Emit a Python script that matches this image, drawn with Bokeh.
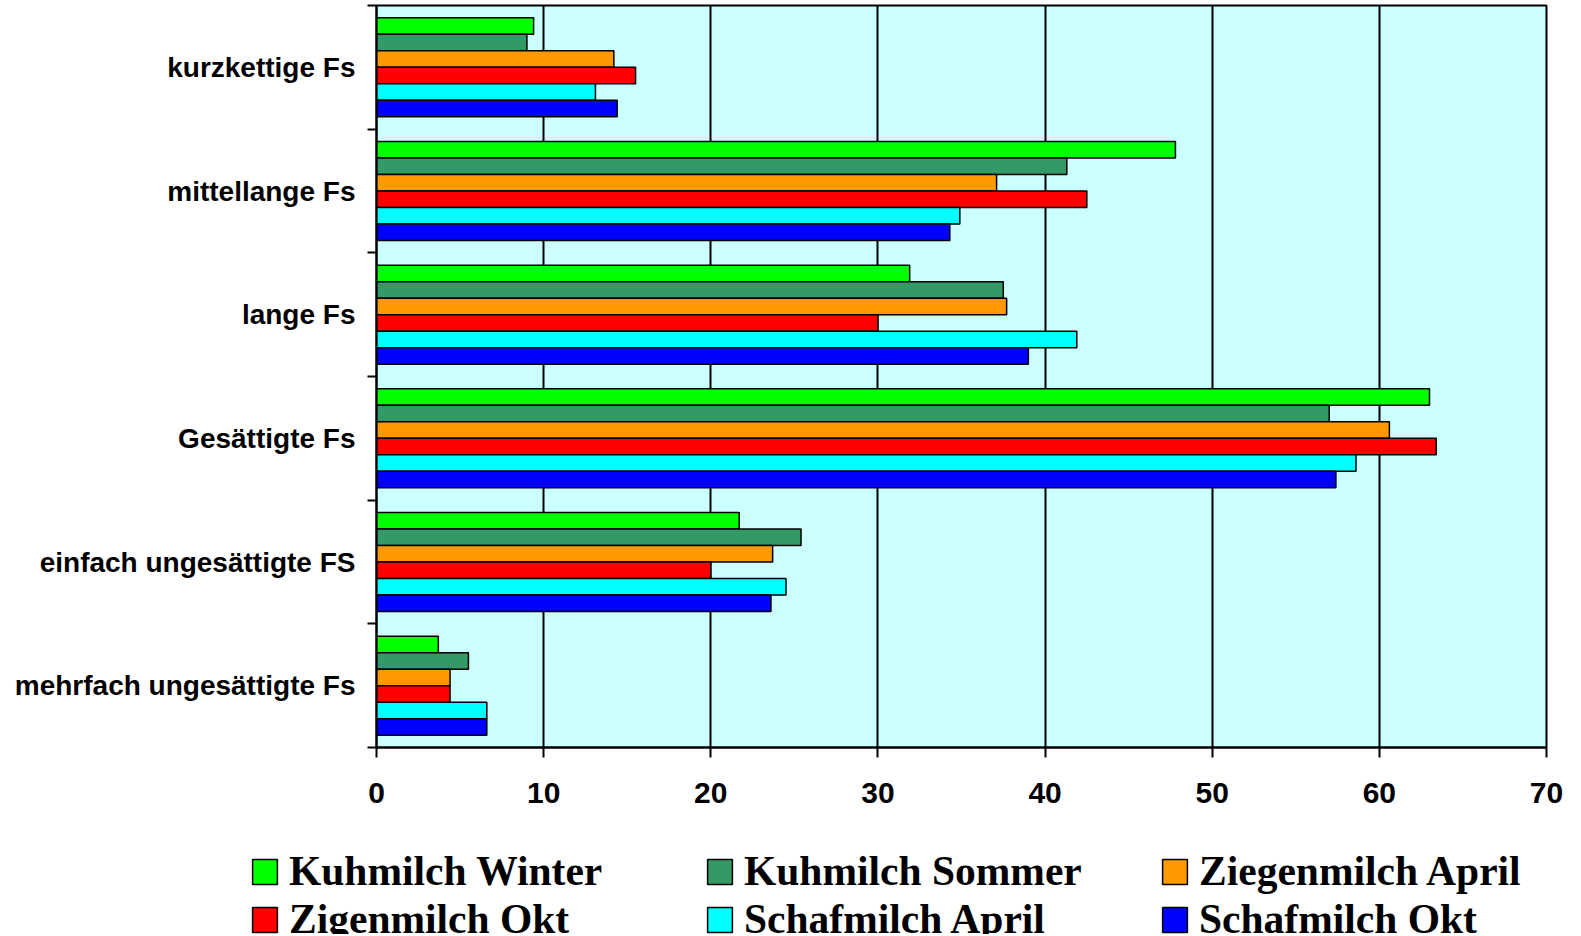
from bokeh.plotting import figure
from bokeh.layouts import column
from bokeh.models import Range1d, FixedTicker, ColumnDataSource, Legend, LegendItem
from bokeh.transform import dodge
from bokeh.embed import file_html
from bokeh.resources import INLINE

categories = ["kurzkettige Fs", "mittellange Fs", "lange Fs", "Gesättigte Fs",
              "einfach ungesättigte FS", "mehrfach ungesättigte Fs"]
series_names = ["Kuhmilch Winter", "Kuhmilch Sommer", "Ziegenmilch April",
                "Zigenmilch Okt", "Schafmilch April", "Schafmilch Okt"]
kuh_winter = [9.4, 47.8, 31.9, 63.0, 21.7, 3.7]
kuh_sommer = [9.0, 41.3, 37.5, 57.0, 25.4, 5.5]
ziege_april = [14.2, 37.1, 37.7, 60.6, 23.7, 4.4]
ziege_okt = [15.5, 42.5, 30.0, 63.4, 20.0, 4.4]
schaf_april = [13.1, 34.9, 41.9, 58.6, 24.5, 6.6]
schaf_okt = [14.4, 34.3, 39.0, 57.4, 23.6, 6.6]
series_values = [kuh_winter, kuh_sommer, ziege_april, ziege_okt, schaf_april, schaf_okt]
colors = ["#00FF00", "#339966", "#FF9900", "#FF0000", "#00FFFF", "#0000FF"]
x_ticks = [0, 10, 20, 30, 40, 50, 60, 70]

n = len(categories)
ypos = [n - 0.5 - i for i in range(n)]  # top category first
data = {"y": ypos}
for k, vals in enumerate(series_values):
    data[f"s{k}"] = vals
source = ColumnDataSource(data)

p = figure(width=1565, height=830, x_range=Range1d(0, 70), y_range=Range1d(0, n),
           output_backend="svg", toolbar_location=None,
           min_border_left=376, min_border_right=19, min_border_top=5,
           min_border_bottom=83)
p.frame_align = False
p.background_fill_color = "#CCFFFF"
p.border_fill_color = "white"
p.outline_line_color = "black"
p.outline_line_width = 2

bar_h = 0.8 / 6
for k in range(6):
    off = 0.4 - bar_h * (k + 0.5)
    p.hbar(y=dodge("y", off), left=0, right=f"s{k}", height=bar_h, source=source,
           fill_color=colors[k], line_color="black", line_width=1.5)

# x axis
p.xaxis.ticker = FixedTicker(ticks=x_ticks)
p.xaxis.axis_line_width = 2
p.xaxis.major_tick_line_width = 2
p.xaxis.major_tick_out = 10
p.xaxis.major_tick_in = 0
p.xaxis.minor_tick_line_color = None
p.xaxis.major_label_text_font = "Liberation Sans"
p.xaxis.major_label_text_font_style = "bold"
p.xaxis.major_label_text_font_size = "30px"
p.xaxis.major_label_text_color = "black"
p.xaxis.major_label_standoff = 25

# y axis
p.yaxis.ticker = FixedTicker(ticks=ypos, minor_ticks=list(range(n + 1)))
p.yaxis.major_label_overrides = {y: c for y, c in zip(ypos, categories)}
p.yaxis.axis_line_width = 2
p.yaxis.major_tick_out = 0
p.yaxis.major_tick_in = 0
p.yaxis.minor_tick_out = 9
p.yaxis.minor_tick_in = 0
p.yaxis.minor_tick_line_width = 2
p.yaxis.minor_tick_line_color = "black"
p.yaxis.major_label_text_font = "Liberation Sans"
p.yaxis.major_label_text_font_style = "bold"
p.yaxis.major_label_text_font_size = "28px"
p.yaxis.major_label_text_color = "black"
p.yaxis.major_label_standoff = 12

p.xgrid.grid_line_color = "black"
p.xgrid.grid_line_width = 2
p.xgrid.ticker = FixedTicker(ticks=x_ticks)
p.ygrid.grid_line_color = None

# legend strip below the chart
lg = figure(width=1565, height=104, x_range=Range1d(0, 1), y_range=Range1d(0, 1),
            output_backend="svg", toolbar_location=None,
            x_axis_location=None, y_axis_location=None,
            min_border_left=0, min_border_right=0, min_border_top=0, min_border_bottom=0)
lg.frame_align = False
lg.outline_line_color = None
lg.background_fill_color = "white"
lg.border_fill_color = "white"
lg.xgrid.grid_line_color = None
lg.ygrid.grid_line_color = None

# legend-only renderers: one bar each, placed well outside the visible ranges
dummy = []
for k in range(6):
    r = lg.hbar(y=[-5], left=[5], right=[6], height=0.1, fill_color=colors[k],
                line_color="black", line_width=1.5)
    dummy.append(r)

col_x = [249, 704, 1159]
for c in range(3):
    its = [LegendItem(label=series_names[c], renderers=[dummy[c]]),
           LegendItem(label=series_names[c + 3], renderers=[dummy[c + 3]])]
    leg = Legend(items=its, orientation="vertical", location=(col_x[c], -9),
                 label_text_font="Liberation Serif", label_text_font_style="bold",
                 label_text_font_size="41.5px", label_text_color="black",
                 glyph_width=31, glyph_height=31, label_standoff=9,
                 spacing=0, padding=0, margin=0,
                 border_line_color=None, background_fill_alpha=0)
    lg.add_layout(leg, "center")

layout = column(p, lg, spacing=0)
open("out.html", "w").write(file_html(layout, INLINE))
